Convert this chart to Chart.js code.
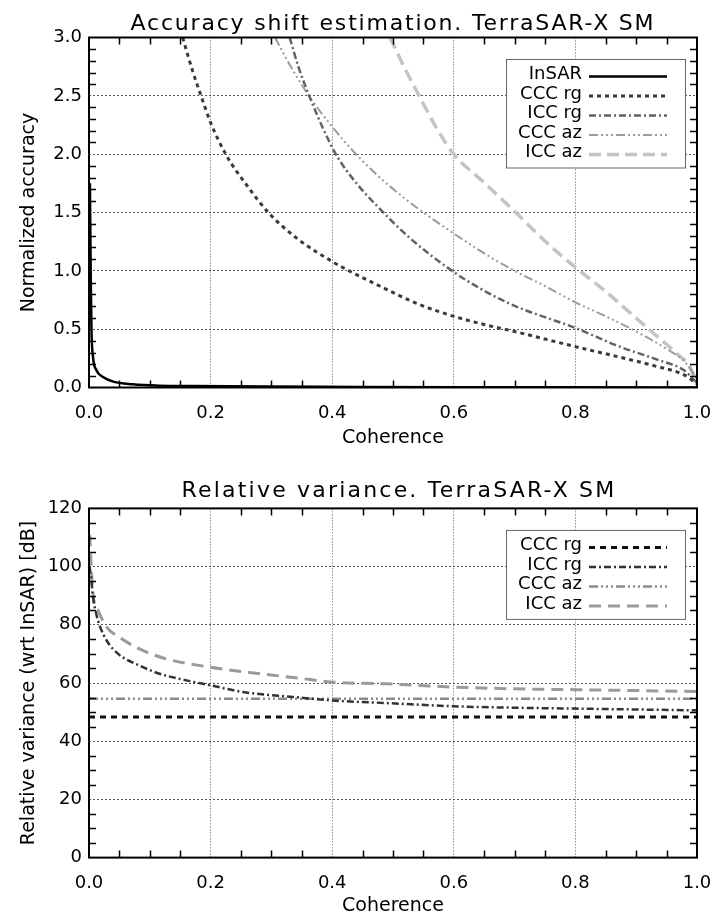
<!DOCTYPE html>
<html lang="en">
<head>
<meta charset="UTF-8">
<title>Accuracy shift estimation. TerraSAR-X SM</title>
<script src="https://cdn.jsdelivr.net/npm/chart.js"></script>
<style>
  html, body { margin: 0; padding: 0; background: #fff; }
  #wrap { position: relative; width: 713px; height: 917px; }
  canvas { position: absolute; left: 0; }
  #accChart { top: 0; }
  #varChart { top: 458px; }
</style>
</head>
<body>
<div id="wrap">
  <canvas id="accChart" width="713" height="458"></canvas>
  <canvas id="varChart" width="713" height="459"></canvas>
</div>
<script>
// ---- top plot: normalized accuracy vs coherence ----
const accTitle = 'Accuracy shift estimation. TerraSAR-X SM';
const accYLabel = 'Normalized accuracy';
const accYTicks = { min: 0, max: 3, step: 0.5, minor: 0.1 };

const accInsarX = [0.0015, 0.003, 0.004, 0.0066, 0.012, 0.023, 0.04, 0.072, 0.116, 0.17, 0.3, 0.45, 0.6, 0.8, 1.0];
const accInsarY = [1.75, 0.9, 0.51, 0.26, 0.15, 0.09, 0.05, 0.027, 0.015, 0.012, 0.008, 0.005, 0.003, 0.002, 0.0];

const accCccRgX = [0.154, 0.17, 0.185, 0.2, 0.226, 0.26, 0.295, 0.344, 0.4, 0.424, 0.478, 0.544, 0.6, 0.65, 0.7, 0.8, 0.873, 0.934, 0.978, 1.0];
const accCccRgY = [3.0, 2.72, 2.49, 2.27, 1.99, 1.73, 1.5, 1.27, 1.08, 1.01, 0.87, 0.71, 0.61, 0.54, 0.48, 0.35, 0.26, 0.18, 0.11, 0.03];

const accIccRgX = [0.33, 0.345, 0.363, 0.385, 0.407, 0.44, 0.473, 0.528, 0.6, 0.648, 0.7, 0.8, 0.873, 0.934, 0.978, 1.0];
const accIccRgY = [3.0, 2.74, 2.49, 2.22, 1.99, 1.75, 1.56, 1.28, 0.99, 0.835, 0.70, 0.51, 0.35, 0.24, 0.15, 0.04];

const accCccAzX = [0.306, 0.333, 0.363, 0.4, 0.432, 0.47, 0.517, 0.55, 0.6, 0.65, 0.7, 0.75, 0.8, 0.85, 0.9, 0.95, 0.98, 1.0];
const accCccAzY = [3.0, 2.74, 2.49, 2.235, 2.04, 1.84, 1.63, 1.50, 1.32, 1.15, 1.0, 0.87, 0.73, 0.61, 0.48, 0.33, 0.22, 0.07];

const accIccAzX = [0.495, 0.52, 0.544, 0.572, 0.6, 0.649, 0.698, 0.753, 0.8, 0.846, 0.89, 0.934, 0.967, 0.988, 1.0];
const accIccAzY = [3.0, 2.73, 2.49, 2.22, 2.0, 1.76, 1.52, 1.24, 1.03, 0.84, 0.64, 0.44, 0.29, 0.18, 0.03];

// ---- bottom plot: relative variance ----
const varTitle = 'Relative variance. TerraSAR-X SM';
const varYLabel = 'Relative variance (wrt InSAR) [dB]';
const varYTicks = { min: 0, max: 120, step: 20, minor: 5 };

const varCccRgX = [0, 1];
const varCccRgY = [48.3, 48.3];

const varIccRgX = [0.001, 0.004, 0.0066, 0.012, 0.0176, 0.029, 0.048, 0.083, 0.116, 0.16, 0.2, 0.253, 0.336, 0.4, 0.49, 0.6, 0.7, 0.8, 0.9, 1.0];
const varIccRgY = [100, 95.2, 89.4, 83.7, 79.7, 74.6, 70.0, 66.0, 63.2, 60.9, 59.2, 56.9, 55.2, 54.0, 53.1, 52.0, 51.5, 51.2, 50.9, 50.6];

const varCccAzX = [0, 1];
const varCccAzY = [54.6, 54.6];

const varIccAzX = [0.001, 0.0066, 0.015, 0.029, 0.05, 0.083, 0.127, 0.2, 0.281, 0.344, 0.4, 0.49, 0.6, 0.7, 0.8, 0.9, 1.0];
const varIccAzY = [111, 90.6, 84.9, 79.2, 75.7, 71.7, 68.3, 65.4, 63.2, 61.7, 60.3, 59.7, 58.6, 58.0, 57.7, 57.4, 57.1];

const xLabel = 'Coherence';
const FONT = 'DejaVu Sans';

function pts(xs, ys) {
  return xs.map((x, i) => ({ x: x, y: ys[i] }));
}

function line(label, xs, ys, color, width, dash) {
  return {
    label: label,
    data: pts(xs, ys),
    borderColor: color,
    borderWidth: width,
    borderDash: dash,
    pointRadius: 0,
    fill: false,
    tension: 0.4,
    cubicInterpolationMode: 'monotone'
  };
}

// box, minor ticks, title and legend (IDL style)
const idlFrame = {
  id: 'idlFrame',
  afterDatasetsDraw(chart, args, o) {
    const ctx = chart.ctx;
    const a = chart.chartArea;
    const x = chart.scales.x, y = chart.scales.y;
    ctx.save();

    // minor ticks, inward, on all four sides
    ctx.strokeStyle = '#000';
    ctx.lineWidth = 1.5;
    ctx.beginPath();
    let n = Math.round((x.max - x.min) / o.xMinor);
    let k = Math.round(o.xMajor / o.xMinor);
    for (let i = 1; i < n; i++) {
      if (i % k === 0) continue;
      const px = Math.round(x.getPixelForValue(x.min + i * o.xMinor)) + 0.5;
      ctx.moveTo(px, a.bottom); ctx.lineTo(px, a.bottom - 7);
      ctx.moveTo(px, a.top); ctx.lineTo(px, a.top + 7);
    }
    n = Math.round((y.max - y.min) / o.yMinor);
    k = Math.round(o.yMajor / o.yMinor);
    for (let i = 1; i < n; i++) {
      if (i % k === 0) continue;
      const py = Math.round(y.getPixelForValue(y.min + i * o.yMinor)) + 0.5;
      ctx.moveTo(a.left, py); ctx.lineTo(a.left + 7, py);
      ctx.moveTo(a.right, py); ctx.lineTo(a.right - 7, py);
    }
    ctx.stroke();

    ctx.lineWidth = 2;
    ctx.strokeRect(a.left, a.top, a.right - a.left, a.bottom - a.top);

    // title
    ctx.fillStyle = '#000';
    ctx.font = '22px "' + FONT + '"';
    ctx.letterSpacing = o.titleSpacing;
    ctx.textAlign = 'center';
    ctx.textBaseline = 'alphabetic';
    ctx.fillText(o.title, (a.left + a.right) / 2 + o.titleDx, o.titleY);
    ctx.letterSpacing = '0px';

    // legend box
    const sets = chart.data.datasets;
    const bw = 179, rowH = 19.5;
    const bl = a.right - 12 - bw;
    const bt = a.top + 21.5;
    const bh = sets.length * rowH + 11;
    ctx.fillStyle = '#fff';
    ctx.fillRect(bl, bt, bw, bh);
    ctx.strokeStyle = '#666';
    ctx.lineWidth = 1;
    ctx.strokeRect(bl + 0.5, bt + 0.5, bw, bh);
    ctx.font = '18px "' + FONT + '"';
    ctx.textAlign = 'right';
    ctx.textBaseline = 'middle';
    sets.forEach((d, i) => {
      const ry = bt + 15.5 + i * rowH;
      ctx.fillStyle = '#000';
      ctx.fillText(d.label, bl + 76, ry);
      ctx.strokeStyle = d.borderColor;
      ctx.lineWidth = d.borderWidth;
      ctx.setLineDash(d.borderDash || []);
      ctx.beginPath();
      ctx.moveTo(bl + 83, ry + 2);
      ctx.lineTo(bl + 161, ry + 2);
      ctx.stroke();
    });
    ctx.setLineDash([]);
    ctx.restore();
  }
};

function scales(yt, yTitle, xHeight, yFmt) {
  const edgeX = c => (c.tick && (c.tick.value <= 0 || c.tick.value >= 1)) ? 'rgba(0,0,0,0)' : '#555';
  const edgeY = c => (c.tick && (c.tick.value <= yt.min || c.tick.value >= yt.max)) ? 'rgba(0,0,0,0)' : '#555';
  return {
    x: {
      type: 'linear', min: 0, max: 1,
      afterFit: s => {
        s.height = xHeight;
        // keep the end labels from shrinking the plot box
        s.paddingLeft = 0;
        s.paddingRight = 0;
      },
      ticks: {
        stepSize: 0.2, padding: 15, color: '#000', maxRotation: 0, autoSkip: false,
        font: { family: FONT, size: 18 },
        callback: v => v.toFixed(1)
      },
      grid: { drawTicks: false, color: edgeX, lineWidth: 1 },
      border: { display: false, dash: [1, 2] },
      title: {
        display: true, text: xLabel, color: '#000',
        font: { family: FONT, size: 19 },
        padding: { top: 0, bottom: xHeight > 65 ? 9 : 0 }
      }
    },
    y: {
      type: 'linear', min: yt.min, max: yt.max,
      afterFit: s => {
        s.width = 89;
        s.paddingTop = 0;
        s.paddingBottom = 0;
      },
      ticks: {
        stepSize: yt.step, padding: 7, color: '#000',
        font: { family: FONT, size: 18 },
        callback: yFmt
      },
      grid: { drawTicks: false, color: edgeY, lineWidth: 1 },
      border: { display: false, dash: [2, 2] },
      title: {
        display: true, text: yTitle, color: '#000',
        font: { family: FONT, size: 19 },
        padding: { top: 18, bottom: 0 }
      }
    }
  };
}

new Chart(document.getElementById('accChart'), {
  type: 'line',
  data: {
    datasets: [
      line('InSAR', accInsarX, accInsarY, '#000000', 2.5, []),
      line('CCC rg', accCccRgX, accCccRgY, '#3a3a3a', 3, [4, 4]),
      line('ICC rg', accIccRgX, accIccRgY, '#636363', 2.5, [7, 3, 2, 3]),
      line('CCC az', accCccAzX, accCccAzY, '#9c9c9c', 2, [9, 3, 2, 3, 2, 3, 2, 3]),
      line('ICC az', accIccAzX, accIccAzY, '#c4c4c4', 3.5, [12, 6])
    ]
  },
  options: {
    responsive: false,
    animation: false,
    devicePixelRatio: 1,
    layout: { autoPadding: false, padding: { top: 37.5, right: 16, bottom: 0, left: 0 } },
    scales: scales(accYTicks, accYLabel, 70.5, v => v.toFixed(1)),
    plugins: {
      legend: { display: false },
      tooltip: { enabled: false },
      idlFrame: {
        xMinor: 0.05, xMajor: 0.2, yMinor: accYTicks.minor, yMajor: accYTicks.step,
        title: accTitle, titleY: 30, titleDx: 0, titleSpacing: '1.8px'
      }
    }
  },
  plugins: [idlFrame]
});

new Chart(document.getElementById('varChart'), {
  type: 'line',
  data: {
    datasets: [
      line('CCC rg', varCccRgX, varCccRgY, '#111111', 3, [6, 5]),
      line('ICC rg', varIccRgX, varIccRgY, '#333333', 2.5, [7, 3, 2, 3]),
      line('CCC az', varCccAzX, varCccAzY, '#8c8c8c', 2.5, [9, 3, 2, 3, 2, 3, 2, 3]),
      line('ICC az', varIccAzX, varIccAzY, '#9a9a9a', 3, [12, 7])
    ]
  },
  options: {
    responsive: false,
    animation: false,
    devicePixelRatio: 1,
    layout: { autoPadding: false, padding: { top: 50.4, right: 16, bottom: 0, left: 0 } },
    scales: scales(varYTicks, varYLabel, 59.4, v => String(Math.round(v))),
    plugins: {
      legend: { display: false },
      tooltip: { enabled: false },
      idlFrame: {
        xMinor: 0.05, xMajor: 0.2, yMinor: varYTicks.minor, yMajor: varYTicks.step,
        title: varTitle, titleY: 39, titleDx: 6, titleSpacing: '2.2px'
      }
    }
  },
  plugins: [idlFrame]
});
</script>
</body>
</html>
